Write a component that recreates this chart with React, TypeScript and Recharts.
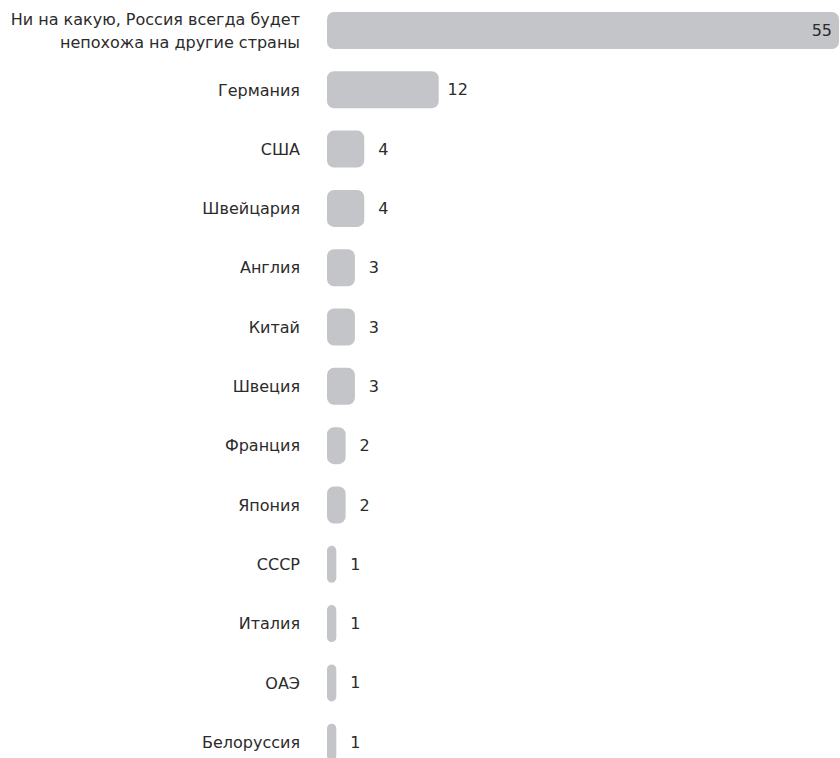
import { Bar, BarChart, LabelList, XAxis, YAxis } from "recharts";

const countries = [
  "Ни на какую, Россия всегда будет\nнепохожа на другие страны",
  "Германия",
  "США",
  "Швейцария",
  "Англия",
  "Китай",
  "Швеция",
  "Франция",
  "Япония",
  "СССР",
  "Италия",
  "ОАЭ",
  "Белоруссия",
];
const shares = [55, 12, 4, 4, 3, 3, 3, 2, 2, 1, 1, 1, 1];

const data = countries.map((name, i) => ({ name, value: shares[i] }));
const maxValue = Math.max(...shares);

const FONT = "'DejaVu Sans', sans-serif";
const TEXT = "#2b2b2b";

function CountryTick({ x, y, payload }: any) {
  const lines = String(payload.value).split("\n");
  const lh = 23;
  const start = y - ((lines.length - 1) * lh) / 2;
  return (
    <text x={x} y={start} textAnchor="end" fill={TEXT} fontSize={16} fontFamily={FONT}>
      {lines.map((l, i) => (
        <tspan key={i} x={x} y={start + i * lh} dy="0.35em">
          {l}
        </tspan>
      ))}
    </text>
  );
}

function ValueLabel({ x, y, width, height, value }: any) {
  const inside = value === maxValue;
  const cx = inside ? x + width - 7 : x + width + 19;
  return (
    <text
      x={cx}
      y={y + height / 2}
      dy="0.35em"
      textAnchor={inside ? "end" : "middle"}
      fill={TEXT}
      fontSize={16}
      fontFamily={FONT}
    >
      {value}
    </text>
  );
}

export default function App() {
  return (
    <div style={{ position: "absolute", left: 0, top: 0 }}>
      <BarChart
        width={839}
        height={772}
        data={data}
        layout="vertical"
        margin={{ top: 1, right: 0, bottom: 0, left: 0 }}
      >
        <XAxis type="number" hide domain={[0, 55]} />
        <YAxis
          type="category"
          dataKey="name"
          width={327}
          axisLine={false}
          tickLine={false}
          tickSize={0}
          tickMargin={27}
          interval={0}
          tick={<CountryTick />}
        />
        <Bar dataKey="value" fill="#c4c5c9" barSize={37} radius={7} isAnimationActive={false}>
          <LabelList dataKey="value" content={<ValueLabel />} />
        </Bar>
      </BarChart>
    </div>
  );
}
